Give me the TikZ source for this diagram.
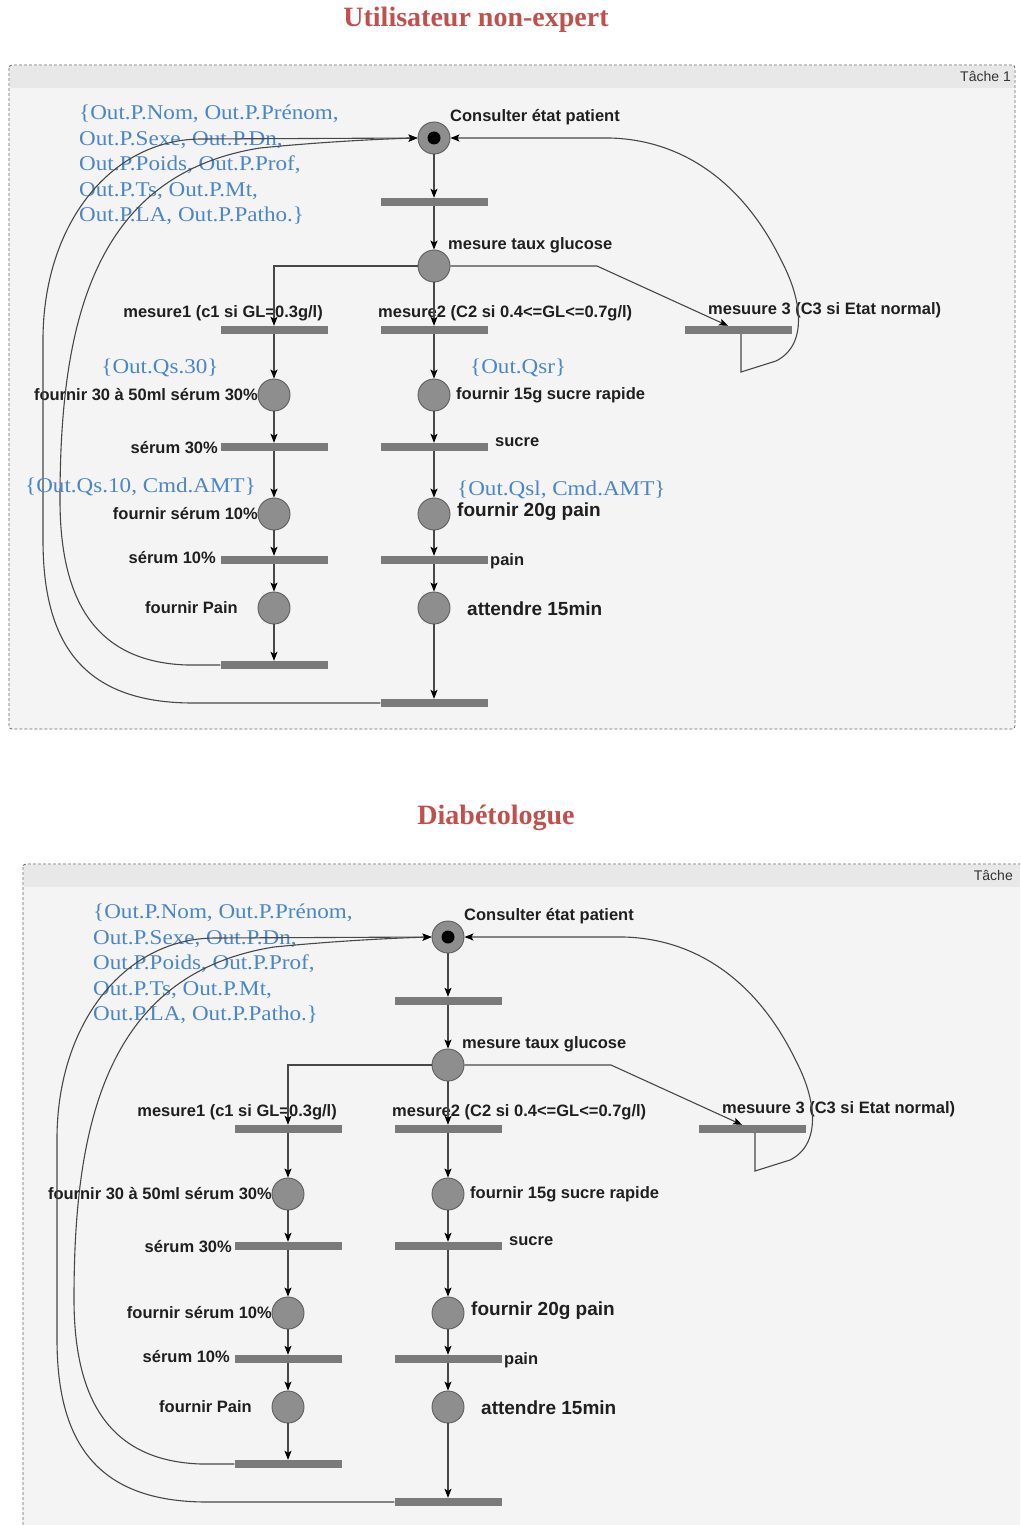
\documentclass[tikz,border=0pt]{standalone}
\usepackage{fontspec}
\setmainfont{Liberation Serif}
\setsansfont{Liberation Sans}
\newfontfamily\annfont[FakeStretch=1.1]{Liberation Serif}
\usetikzlibrary{arrows.meta}
\definecolor{titlered}{HTML}{C0504D}
\definecolor{annblue}{HTML}{4A86C8}
\definecolor{placegray}{HTML}{8E8E8E}
\definecolor{placeedge}{HTML}{5E5E5E}
\definecolor{transgray}{HTML}{7A7A7A}
\definecolor{panelbg}{HTML}{F4F4F4}
\definecolor{headbg}{HTML}{E8E8E8}
\definecolor{edgegray}{HTML}{474747}
\tikzset{
  place/.style={circle, draw=placeedge, fill=placegray, minimum size=32pt, inner sep=0pt, line width=0.9pt},
  token/.style={circle, fill=black, minimum size=13pt, inner sep=0pt},
  trans/.style={rectangle, fill=transgray, minimum width=107pt, minimum height=8pt, inner sep=0pt},
  lab/.style={font=\sffamily\bfseries\fontsize{16.5}{19}\selectfont, text=black!88, inner sep=0pt},
  biglab/.style={font=\sffamily\bfseries\fontsize{19}{22}\selectfont, text=black!88, inner sep=0pt},
  ann/.style={font=\annfont\fontsize{21}{25.5}\selectfont, text=annblue, inner sep=0pt, align=left},
  titletext/.style={font=\rmfamily\bfseries\fontsize{28}{30}\selectfont, text=titlered, inner sep=0pt},
  tachetext/.style={font=\sffamily\fontsize{14}{16}\selectfont, text=black!80, inner sep=0pt},
  frameline/.style={draw=black!60, line width=0.8pt, dash pattern=on 3pt off 2pt},
  arc/.style={draw=edgegray, line width=1.1pt, -{Stealth[length=9pt,width=7pt,inset=2pt,color=black]}}
}
\newcommand\petrinet[2]{%
  \fill[panelbg] (9,65) rectangle (1015,729);
  \fill[headbg] (10,66) rectangle (1014,88);
  \draw[frameline, rounded corners=3pt] (9,65) rectangle (1015,729);
  \node[tachetext, anchor=east] (tache) at (#2,76) {#1};
  % places and transitions
  \node[place] (p0) at (434,138) {};
  \node[token] (dot) at (434,138) {};
  \node[trans] (t0) at (434,202) {};
  \node[place] (p1) at (434,266) {};
  \node[trans] (t1) at (274,330) {};
  \node[trans] (t2) at (434,330) {};
  \node[trans] (t3) at (738,330) {};
  \node[place] (p2) at (274,395) {};
  \node[place] (p3) at (434,395) {};
  \node[trans] (t4) at (274,447) {};
  \node[trans] (t5) at (434,447) {};
  \node[place] (p4) at (274,514) {};
  \node[place] (p5) at (434,514) {};
  \node[trans] (t6) at (274,560) {};
  \node[trans] (t7) at (434,560) {};
  \node[place] (p6) at (274,608) {};
  \node[place] (p7) at (434,608) {};
  \node[trans] (t8) at (274,665) {};
  \node[trans] (t9) at (434,703) {};
  % labels
  \node[lab, anchor=west] (l0) at (450,117) {Consulter état patient};
  \node[lab, anchor=west] (l1) at (448,245) {mesure taux glucose};
  \node[lab, anchor=east] (l2) at (323,313) {mesure1 (c1 si GL=0.3g/l)};
  \node[lab, anchor=west] (l3) at (378,313) {mesure2 (C2 si 0.4<=GL<=0.7g/l)};
  \node[lab, anchor=west] (l4) at (708,310) {mesuure 3 (C3 si Etat normal)};
  \node[lab, anchor=east] (l5) at (258,395) {fournir 30 à 50ml sérum 30\%};
  \node[lab, anchor=west] (l6) at (456,395) {fournir 15g sucre rapide};
  \node[lab, anchor=east] (l7) at (218,448) {sérum 30\%};
  \node[lab, anchor=west] (l8) at (495,442) {sucre};
  \node[lab, anchor=east] (l9) at (258,514) {fournir sérum 10\%};
  \node[biglab, anchor=west] (l10) at (457,512) {fournir 20g pain};
  \node[lab, anchor=east] (l11) at (216,558) {sérum 10\%};
  \node[lab, anchor=west] (l12) at (490,561) {pain};
  \node[lab, anchor=east] (l13) at (238,608) {fournir Pain};
  \node[biglab, anchor=west] (l14) at (467,609) {attendre 15min};
  % big annotation
  \node[ann, anchor=north west] (a0) at (79,105) {\{Out.P.Nom, Out.P.Prénom,\\Out.P.Sexe, Out.P.Dn,\\Out.P.Poids, Out.P.Prof,\\Out.P.Ts, Out.P.Mt,\\Out.P.LA, Out.P.Patho.\}};
  % arcs
  \draw[arc] (p0) -- (t0);
  \draw[arc] (t0) -- (p1);
  \draw[arc] (p1) -| (t1);
  \draw[arc] (p1) -- (t2);
  \coordinate (c3) at (597,266);
  \draw[arc] (p1.east) -- (c3) -- ([xshift=-10pt]t3.north);
  \draw[arc] (t1) -- (p2);
  \draw[arc] (p2) -- (t4);
  \draw[arc] (t4) -- (p4);
  \draw[arc] (p4) -- (t6);
  \draw[arc] (t6) -- (p6);
  \draw[arc] (p6) -- (t8);
  \draw[arc] (t2) -- (p3);
  \draw[arc] (p3) -- (t5);
  \draw[arc] (t5) -- (p5);
  \draw[arc] (p5) -- (t7);
  \draw[arc] (t7) -- (p7);
  \draw[arc] (p7) -- (t9);
  % return arcs
  \draw[arc] (t9.west) -- (193,703) .. controls (80,703) and (43,640) .. (43,540) -- (43,340) .. controls (43,225) and (110,140) .. (200,139) -- (p0.west);
  \draw[arc] (t8.west) -- (187,665) .. controls (95,662) and (60,600) .. (60,500) .. controls (60,330) and (90,175) .. (260,148) .. controls (320,142) and (380,139) .. (p0.west);
  \draw[arc] ([xshift=3pt]t3.south) -- (741,372) -- (776,361) .. controls (808,345) and (802,300) .. (782,262) .. controls (745,185) and (685,140) .. (610,138) -- (p0.east);
}
\begin{document}
\begin{tikzpicture}[x=1pt,y=-1pt]
  \clip (0,0) rectangle (1020,1525);
  \fill[white] (0,0) rectangle (1020,1525);
  \node[titletext] (title1) at (476,20) {Utilisateur non-expert};
  \node[titletext] (title2) at (496,818) {Diabétologue};
  \begin{scope}[name prefix=A-]
    \petrinet{Tâche 1}{1011}
    \node[ann] (a1) at (160,368) {\{Out.Qs.30\}};
    \node[ann, anchor=west] (a2) at (470,368) {\{Out.Qsr\}};
    \node[ann, anchor=west] (a3) at (25,487) {\{Out.Qs.10, Cmd.AMT\}};
    \node[ann, anchor=west] (a4) at (457,490) {\{Out.Qsl, Cmd.AMT\}};
  \end{scope}
  \begin{scope}[shift={(14,799)}, name prefix=B-]
    \petrinet{Tâche}{999}
  \end{scope}
\end{tikzpicture}
\end{document}
